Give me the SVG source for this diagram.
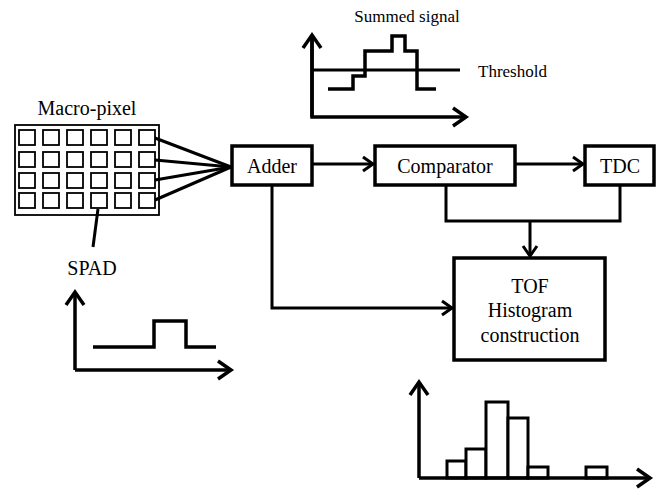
<svg xmlns="http://www.w3.org/2000/svg" width="664" height="489" viewBox="0 0 664 489">
<defs>
<style>
text{font-family:"Liberation Serif","Times New Roman",serif;fill:#000}
.lbl{font-size:20px;text-anchor:middle}
.sm{font-size:17px}
.box{fill:#fff;stroke:#000;stroke-width:3.5}
.ln{fill:none;stroke:#000;stroke-width:3}
.ax{fill:none;stroke:#000;stroke-width:3.5}
.cell{fill:#fff;stroke:#000;stroke-width:1.8}
.bar{fill:#fff;stroke:#000;stroke-width:3}
</style>
<marker id="arr" markerUnits="userSpaceOnUse" markerWidth="16" markerHeight="18" viewBox="0 0 16 18" refX="13" refY="9" orient="auto">
<path d="M3,2 L13,9 L3,16" fill="none" stroke="#000" stroke-width="3"/>
</marker>
<marker id="axa" markerUnits="userSpaceOnUse" markerWidth="20" markerHeight="22" viewBox="0 0 20 22" refX="16" refY="11" orient="auto">
<path d="M3,2 L16,11 L3,20" fill="none" stroke="#000" stroke-width="3.5"/>
</marker>
</defs>
<rect width="664" height="489" fill="#fff"/>

<g id="macro-pixel">
<text class="lbl" x="87" y="115">Macro-pixel</text>
<rect x="15" y="125" width="144" height="90" fill="#fff" stroke="#000" stroke-width="1.8"/>
<g>
<rect class="cell" x="19" y="130" width="16" height="15"/><rect class="cell" x="43" y="130" width="16" height="15"/><rect class="cell" x="67" y="130" width="16" height="15"/><rect class="cell" x="91" y="130" width="16" height="15"/><rect class="cell" x="115" y="130" width="16" height="15"/><rect class="cell" x="139" y="130" width="16" height="15"/>
<rect class="cell" x="19" y="152" width="16" height="15"/><rect class="cell" x="43" y="152" width="16" height="15"/><rect class="cell" x="67" y="152" width="16" height="15"/><rect class="cell" x="91" y="152" width="16" height="15"/><rect class="cell" x="115" y="152" width="16" height="15"/><rect class="cell" x="139" y="152" width="16" height="15"/>
<rect class="cell" x="19" y="173" width="16" height="15"/><rect class="cell" x="43" y="173" width="16" height="15"/><rect class="cell" x="67" y="173" width="16" height="15"/><rect class="cell" x="91" y="173" width="16" height="15"/><rect class="cell" x="115" y="173" width="16" height="15"/><rect class="cell" x="139" y="173" width="16" height="15"/>
<rect class="cell" x="19" y="193" width="16" height="15"/><rect class="cell" x="43" y="193" width="16" height="15"/><rect class="cell" x="67" y="193" width="16" height="15"/><rect class="cell" x="91" y="193" width="16" height="15"/><rect class="cell" x="115" y="193" width="16" height="15"/><rect class="cell" x="139" y="193" width="16" height="15"/>
</g>
</g>

<g id="spad">
<line class="ln" x1="98" y1="209" x2="93" y2="247"/>
<text class="lbl" x="92" y="275">SPAD</text>
</g>

<g id="adder">
<rect class="box" x="232" y="146" width="80" height="39"/>
<text class="lbl" x="272" y="173">Adder</text>
</g>

<g id="comparator">
<rect class="box" x="375" y="146" width="140" height="39"/>
<text class="lbl" x="445" y="173">Comparator</text>
</g>

<g id="tdc">
<rect class="box" x="585" y="146" width="69" height="39"/>
<text class="lbl" x="620" y="173">TDC</text>
</g>

<g id="tof">
<rect class="box" x="454" y="258" width="151" height="102"/>
<text class="lbl" x="530" y="293">TOF</text>
<text class="lbl" x="530" y="317">Histogram</text>
<text class="lbl" x="530" y="342">construction</text>
</g>

<g id="connectors">
<line class="ln" x1="155" y1="138" x2="231" y2="167"/>
<line class="ln" x1="155" y1="160" x2="231" y2="167"/>
<line class="ln" x1="155" y1="180" x2="231" y2="167"/>
<line class="ln" x1="155" y1="200" x2="231" y2="167"/>
<line class="ln" x1="312" y1="164" x2="373" y2="164" marker-end="url(#arr)"/>
<line class="ln" x1="515" y1="164" x2="583" y2="164" marker-end="url(#arr)"/>
<path class="ln" d="M446,185 V221 H620 V185"/>
<line class="ln" x1="530" y1="221" x2="530" y2="256" marker-end="url(#arr)"/>
<path class="ln" d="M272,185 V308 H452" marker-end="url(#arr)"/>
</g>

<g id="summed-signal">
<text class="sm" x="407" y="22" text-anchor="middle">Summed signal</text>
<path class="ax" d="M312,35 V117 H466" marker-end="url(#axa)"/>
<line class="ax" x1="312" y1="117" x2="312" y2="35" marker-end="url(#axa)"/>
<line class="ln" x1="313" y1="70" x2="460" y2="70"/>
<text class="sm" x="478" y="77">Threshold</text>
<path class="ax" d="M328,89 H353 V76 H365 V51 H392 V36 H405 V51 H417 V89 H436"/>
</g>

<g id="spad-signal">
<path class="ax" d="M75,370 H231" marker-end="url(#axa)"/>
<line class="ax" x1="75" y1="370" x2="75" y2="292" marker-end="url(#axa)"/>
<path class="ax" d="M93,347 H154 V321 H186 V347 H216"/>
</g>

<g id="histogram">
<rect class="bar" x="447" y="461" width="19" height="17"/>
<rect class="bar" x="466" y="449" width="20" height="29"/>
<rect class="bar" x="486" y="402" width="22" height="76"/>
<rect class="bar" x="508" y="418" width="20" height="60"/>
<rect class="bar" x="528" y="467" width="20" height="11"/>
<rect class="bar" x="586" y="467" width="21" height="11"/>
<path class="ax" d="M419,478 H650" marker-end="url(#axa)"/>
<line class="ax" x1="419" y1="478" x2="419" y2="382" marker-end="url(#axa)"/>
</g>
</svg>
